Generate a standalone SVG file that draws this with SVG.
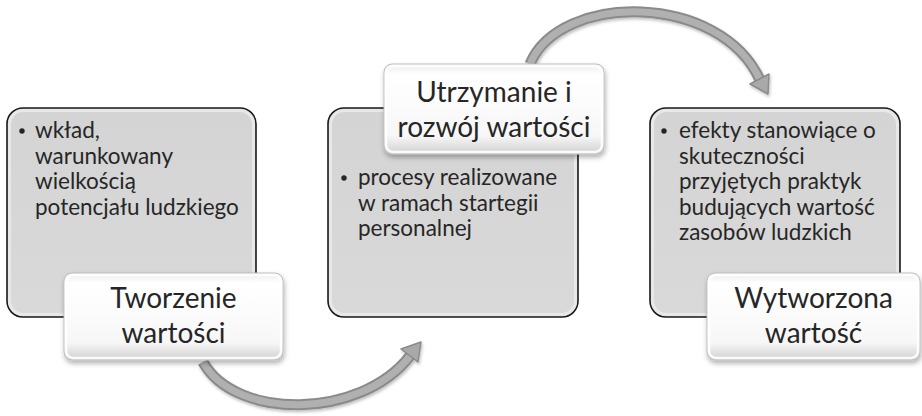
<svg xmlns="http://www.w3.org/2000/svg" width="922" height="416" viewBox="0 0 922 416">
<defs>
<style>
.big{fill:url(#gBig);stroke:#1a1a1a;stroke-width:1.6}
.bigIn{fill:none;stroke:#e8e8e8;stroke-width:3}
.lbl{fill:url(#gLbl);stroke:#bdbdbd;stroke-width:1;filter:url(#sh)}
.lblIn{fill:none;stroke:#ffffff;stroke-width:2.5;opacity:.9}
.bt{font-family:Lato,"Open Sans","Liberation Sans",sans-serif;font-size:22.5px;fill:#262626}
.lt{font-family:Lato,"Open Sans","Liberation Sans",sans-serif;font-size:28px;fill:#262626;text-anchor:middle}
.shaftO{fill:none;stroke:#8a8a8a;stroke-width:11}
.shaftI{fill:none;stroke:#b0b0b0;stroke-width:7}
.head{fill:#a9a9a9;stroke:#8a8a8a;stroke-width:1.5;stroke-linejoin:round}
</style>
<linearGradient id="gBig" x1="0" y1="0" x2="0" y2="1">
<stop offset="0" stop-color="#d4d4d4"/>
<stop offset="1" stop-color="#d9d9d9"/>
</linearGradient>
<linearGradient id="gLbl" x1="0" y1="0" x2="0" y2="1">
<stop offset="0" stop-color="#ececec"/>
<stop offset="0.12" stop-color="#ffffff"/>
<stop offset="0.8" stop-color="#f7f7f7"/>
<stop offset="1" stop-color="#d0d0d0"/>
</linearGradient>
<filter id="sh" x="-10%" y="-10%" width="125%" height="135%">
<feDropShadow dx="1" dy="3" stdDeviation="2.5" flood-color="#000" flood-opacity="0.3"/>
</filter>
<filter id="sh2" x="-10%" y="-10%" width="125%" height="135%">
<feDropShadow dx="1" dy="2" stdDeviation="1.5" flood-color="#000" flood-opacity="0.25"/>
</filter>
</defs>

<g id="connectors" filter="url(#sh2)">
<g id="arrow1">
<path class="shaftO" d="M203,362 C235,420 360,420 410,356"/>
<path class="shaftI" d="M203,362 C235,420 360,420 410,356"/>
<polygon class="head" points="421,342 418,362 401,349"/>
</g>
<g id="arrow2">
<path class="shaftO" d="M530,64 C560,-8 720,-8 760,80"/>
<path class="shaftI" d="M530,64 C560,-8 720,-8 760,80"/>
<polygon class="head" points="768,94 769,74 750,84"/>
</g>
</g>

<g id="node1">
<rect class="big" x="7" y="108" width="249" height="209" rx="16"/>
<rect class="bigIn" x="9.5" y="110.5" width="244" height="204" rx="14"/>
<circle cx="22" cy="131" r="2.7" fill="#262626"/>
<text class="bt"><tspan x="35" y="138">wkład,</tspan><tspan x="35" y="163.5">warunkowany</tspan><tspan x="35" y="189">wielkością</tspan><tspan x="35" y="214.5">potencjału ludzkiego</tspan></text>
</g>
<g id="label1">
<rect class="lbl" x="64" y="273" width="219" height="87" rx="8"/>
<rect class="lblIn" x="66" y="275" width="215" height="83" rx="7"/>
<text class="lt"><tspan x="173.5" y="308">Tworzenie</tspan><tspan x="173.5" y="343">wartości</tspan></text>
</g>

<g id="node2">
<rect class="big" x="328" y="108" width="250" height="209" rx="16"/>
<rect class="bigIn" x="330.5" y="110.5" width="245" height="204" rx="14"/>
<circle cx="344" cy="178" r="2.7" fill="#262626"/>
<text class="bt"><tspan x="358" y="185">procesy realizowane</tspan><tspan x="358" y="210.5">w ramach startegii</tspan><tspan x="358" y="236">personalnej</tspan></text>
</g>
<g id="label2">
<rect class="lbl" x="384" y="64" width="220" height="90" rx="8"/>
<rect class="lblIn" x="386" y="66" width="216" height="86" rx="7"/>
<text class="lt"><tspan x="494" y="102">Utrzymanie i</tspan><tspan x="494" y="137">rozwój wartości</tspan></text>
</g>

<g id="node3">
<rect class="big" x="650" y="108" width="250" height="209" rx="16"/>
<rect class="bigIn" x="652.5" y="110.5" width="245" height="204" rx="14"/>
<circle cx="664" cy="131" r="2.7" fill="#262626"/>
<text class="bt"><tspan x="679" y="138">efekty stanowiące o</tspan><tspan x="679" y="163.5">skuteczności</tspan><tspan x="679" y="189">przyjętych praktyk</tspan><tspan x="679" y="214.5">budujących wartość</tspan><tspan x="679" y="240">zasobów ludzkich</tspan></text>
</g>
<g id="label3">
<rect class="lbl" x="707" y="273" width="213" height="87" rx="8"/>
<rect class="lblIn" x="709" y="275" width="209" height="83" rx="7"/>
<text class="lt"><tspan x="813.5" y="308">Wytworzona</tspan><tspan x="813.5" y="343">wartość</tspan></text>
</g>
</svg>
